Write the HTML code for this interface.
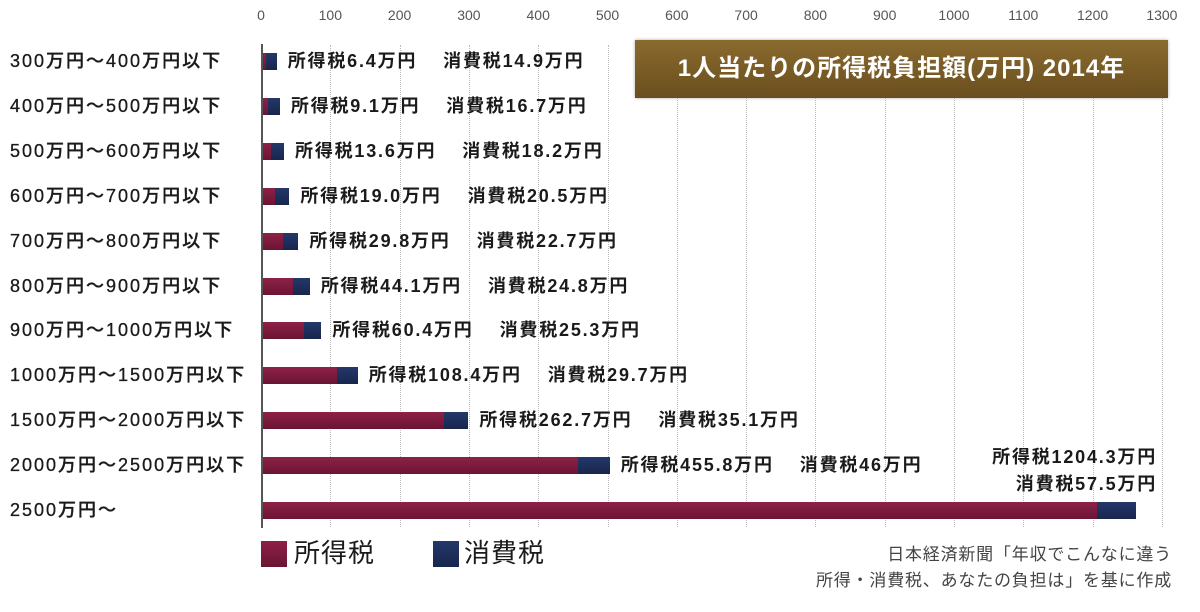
<!DOCTYPE html>
<html><head><meta charset="utf-8"><style>
body{margin:0;width:1200px;height:612px;background:#fff;position:relative;overflow:hidden;font-family:"Liberation Sans","Noto Sans CJK JP",sans-serif;color:#1a1a1a}
.a{position:absolute;white-space:nowrap}
.tick{top:7px;font-size:14px;color:#555;transform:translateX(-50%)}
.grid{top:45px;height:482px;width:0;border-left:1px dotted #bbb}
.cat{left:10px;font-size:18px;line-height:20px;letter-spacing:2px;font-weight:500;-webkit-text-stroke:0.3px #1a1a1a}
.lab{font-size:18px;font-weight:bold;line-height:20px;letter-spacing:1.8px}
.lab span{margin-left:26px}
.bar{height:17px}
.i{background:linear-gradient(#8e2148,#6a1433)}
.c{background:linear-gradient(#24386a,#18264e)}
</style></head><body>
<div id="g"></div>
<div class="a" style="left:635px;top:40px;width:533px;height:58px;background:linear-gradient(#8a6a2e,#6a4e1e);box-shadow:0 0 3px #aaa;color:#fff;font-size:24px;font-weight:bold;line-height:58px;text-align:center;letter-spacing:1px">1人当たりの所得税負担額(万円) 2014年</div>
<div class="a" style="left:261px;top:44px;width:2px;height:484px;background:#555"></div>
<div class="a" style="left:261px;top:541px;width:26px;height:26px;background:linear-gradient(#8e2148,#6a1433)"></div>
<div class="a" style="left:294px;top:537px;font-size:26px;line-height:32px;letter-spacing:1px">所得税</div>
<div class="a" style="left:433px;top:541px;width:26px;height:26px;background:linear-gradient(#24386a,#18264e)"></div>
<div class="a" style="left:464px;top:537px;font-size:26px;line-height:32px;letter-spacing:1px">消費税</div>
<div class="a" style="right:28px;top:542px;font-size:17px;color:#444;text-align:right;line-height:26px;letter-spacing:0.8px">日本経済新聞「年収でこんなに違う<br>所得・消費税、あなたの負担は」を基に作成</div>
<div class="a lab" style="right:43px;top:444px;text-align:right;line-height:27px">所得税1204.3万円<br>消費税57.5万円</div>
<script>
var g=document.getElementById('g'),h='';
var s=0.693,x0=261;
for(var i=0;i<=13;i++){var x=x0+i*100*s;h+='<div class="a tick" style="left:'+x+'px">'+(i*100)+'</div>';if(i>0)h+='<div class="a grid" style="left:'+x+'px"></div>';}
var d=[["300万円〜400万円以下",6.4,14.9],["400万円〜500万円以下",9.1,16.7],["500万円〜600万円以下",13.6,18.2],["600万円〜700万円以下",19.0,20.5],["700万円〜800万円以下",29.8,22.7],["800万円〜900万円以下",44.1,24.8],["900万円〜1000万円以下",60.4,25.3],["1000万円〜1500万円以下",108.4,29.7],["1500万円〜2000万円以下",262.7,35.1],["2000万円〜2500万円以下",455.8,46],["2500万円〜",1204.3,57.5]];
for(var k=0;k<d.length;k++){var y=61+k*44.9,r=d[k];
h+='<div class="a cat" style="top:'+(y-10)+'px">'+r[0]+'</div>';
var w1=r[1]*s,w2=r[2]*s;
h+='<div class="a bar i" style="left:'+(x0+1)+'px;top:'+(y-8)+'px;width:'+w1+'px"></div>';
h+='<div class="a bar c" style="left:'+(x0+1+w1)+'px;top:'+(y-8)+'px;width:'+w2+'px"></div>';
if(k<10){var fi=r[1].toFixed(1);var fc=(k==9)?'46':r[2].toFixed(1);
h+='<div class="a lab" style="left:'+(x0+w1+w2+12)+'px;top:'+(y-10)+'px">所得税'+fi+'万円<span>消費税'+fc+'万円</span></div>';}
}
g.innerHTML=h;
</script>
</body></html>
